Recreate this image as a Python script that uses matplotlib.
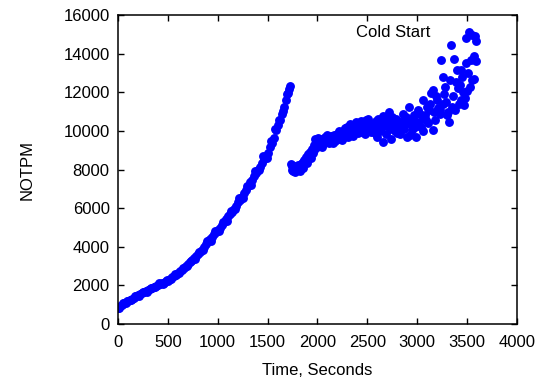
import matplotlib
matplotlib.use('Agg')
import matplotlib.pyplot as plt

plt.rcParams['font.family'] = ['Liberation Sans', 'DejaVu Sans']

# warm-up part (before restart)
t1 = [0, 20, 40, 60, 80, 100, 120, 140, 160, 180, 200, 220, 240, 260, 280,
      300, 320, 340, 360, 380, 400, 420, 440, 460, 480, 500, 520, 540, 560,
      580, 600, 620, 640, 660, 680, 700, 720, 740, 760, 780, 800, 820, 840,
      860, 880, 900, 920, 940, 960, 980, 1000, 1020, 1040, 1060, 1080, 1100,
      1120, 1140, 1160, 1180, 1200, 1220, 1240, 1260, 1280, 1300, 1320, 1340,
      1360, 1380, 1400, 1420, 1440, 1460, 1480, 1500, 1520, 1540, 1560, 1580,
      1600, 1620, 1640, 1660, 1680, 1700, 1710, 1720,
      10, 50, 90, 130, 170, 210, 250, 290, 330, 370, 410, 450, 490, 530, 570,
      610, 650, 690, 730, 770, 810, 850, 890, 930, 970, 1010, 1050, 1090,
      1130, 1170, 1210, 1250, 1290, 1330, 1370, 1410, 1450, 1490, 1530, 1570,
      1610, 1650, 1690]
v1 = [850, 920, 980, 1060, 1110, 1190, 1250, 1310, 1370, 1430, 1480, 1540,
      1580, 1640, 1700, 1740, 1810, 1860, 1930, 1970, 2010, 2060, 2100, 2140,
      2200, 2240, 2330, 2420, 2500, 2560, 2620, 2720, 2800, 2890, 3000, 3080,
      3200, 3290, 3400, 3510, 3620, 3720, 3850, 3980, 4120, 4280, 4400, 4520,
      4640, 4750, 4850, 4980, 5120, 5260, 5420, 5600, 5700, 5820, 5980, 6120,
      6300, 6420, 6580, 6760, 6950, 7150, 7380, 7460, 7650, 7800, 7950, 8150,
      8350, 8540, 8700, 8850, 9150, 9380, 9650, 10050, 10300, 10550, 10900,
      11250, 11600, 11950, 12150, 12350,
      820, 1060, 1200, 1230, 1450, 1460, 1660, 1680, 1880, 1900, 2100, 2080,
      2280, 2320, 2580, 2620, 2900, 2980, 3280, 3380, 3720, 3850, 4300, 4300,
      4800, 4820, 5300, 5350, 5850, 5950, 6500, 6550, 7150, 7200, 7900, 7950,
      8700, 8600, 9500, 10100, 10550, 11050, 11900]

# after restart
t2 = [1730, 1740, 1750, 1760, 1770, 1780, 1790, 1800, 1810, 1820, 1830, 1840,
      1850, 1860, 1870, 1880, 1890, 1900, 1910, 1920, 1930, 1940, 1950, 1960,
      1970, 1980, 1990, 2000, 2010, 2020, 2030, 2050, 2060, 2080, 2090, 2110,
      2120, 2140, 2150, 2170, 2180, 2200, 2210, 2230, 2240, 2260, 2270, 2290,
      2300, 2320, 2330, 2350, 2360, 2380, 2390, 2410, 2420, 2440, 2450, 2470,
      2490, 2500, 2520, 2540, 2555, 2570, 2590, 2600, 2620, 2640, 2655, 2660,
      2680, 2690, 2700, 2720, 2730, 2740, 2755, 2770, 2790, 2800, 2820, 2840,
      2855, 2870, 2880, 2900, 2920, 2925, 2940, 2960, 2980, 2990, 3005, 3020,
      3040, 3055, 3070, 3090, 3100, 3120, 3140, 3155, 3160, 3180, 3190, 3210,
      3225, 3240, 3255, 3260, 3290, 3300, 3320, 3325, 3340, 3350, 3370, 3390,
      3405, 3410, 3420, 3440, 3440, 3455, 3470, 3490, 3490, 3505, 3520, 3540,
      3555, 3555, 3575, 3590, 3595,
      1745, 1775, 1805, 1825, 1865, 1895, 1915, 1945, 1965, 1995, 2025, 2045,
      2070, 2100, 2130, 2160, 2190, 2220, 2250, 2280, 2310, 2340, 2370, 2400,
      2430, 2460, 2480, 2510, 2530, 2560, 2580, 2610, 2630, 2650, 2670, 2710,
      2750, 2780, 2810, 2830, 2860, 2890, 2910, 2950, 2970, 3000, 3030, 3060,
      3080, 3110, 3130, 3170, 3200, 3230, 3270, 3280, 3310, 3360, 3380, 3430,
      3460, 3480, 3510, 3530, 3570, 3580]
v2 = [8300, 7950, 8100, 7900, 8200, 7880, 8000, 7950, 8150, 8050, 7900, 8300,
      8350, 8100, 8500, 8400, 8650, 8550, 8800, 8700, 8900, 8600, 9050, 8850,
      9000, 9600, 9200, 9150, 9650, 9250, 9400, 9500, 9300, 9700, 9450, 9600,
      9350, 9750, 9550, 9800, 9500, 9850, 9600, 9900, 9650, 10000, 9700, 9950,
      10200, 9800, 10350, 10000, 9750, 10100, 10450, 9900, 10200, 10500, 10000,
      10300, 10550, 10100, 10400, 9950, 10050, 10250, 10500, 9700, 10150, 10400,
      10750, 9450, 10300, 9850, 10600, 11000, 10100, 9600, 10400, 10250, 10600,
      9900, 10200, 10450, 10900, 10100, 10500, 9700, 11250, 9800, 10350, 10650,
      10200, 9700, 11100, 10450, 10200, 11600, 10700, 10550, 11250, 11100,
      11950, 10050, 12100, 10550, 11800, 11200, 10900, 13650, 12800, 11400,
      11500, 10850, 10450, 12650, 14450, 11250, 13750, 12550, 13150, 12200,
      11400, 13150, 11600, 12800, 11350, 13500, 14800, 12050, 15150, 13700,
      14950, 12650, 12700, 14650, 13600,
      8200, 8050, 8250, 7950, 8450, 8350, 8600, 8900, 9250, 9500, 9600, 9150,
      9550, 9800, 9600, 9400, 9700, 10000, 9550, 10150, 9700, 10000, 10300,
      10150, 9950, 10400, 9850, 10600, 10150, 10350, 9900, 10600, 10000, 10200,
      10500, 10300, 10700, 10000, 10500, 9850, 10300, 10700, 10400, 10050,
      10850, 10300, 10900, 10000, 10800, 10400, 11400, 11000, 11600, 11100,
      11900, 12300, 11000, 11800, 11100, 12400, 12000, 11700, 13000, 12300,
      13900, 14900]

fig, ax = plt.subplots(figsize=(5.44, 3.78), dpi=100)
fig.subplots_adjust(left=0.217, right=0.950, top=0.960, bottom=0.143)

ax.plot(t1, v1, 'o', color='#0000ff', ms=6.4, mew=0, linestyle='none')
ax.plot(t2, v2, 'o', color='#0000ff', ms=6.4, mew=0, linestyle='none')

ax.set_xlim(0, 4000)
ax.set_ylim(0, 16000)
ax.set_xticks(range(0, 4001, 500))
ax.set_yticks(range(0, 16001, 2000))
ax.tick_params(direction='in', length=4, width=1, top=True, right=True,
               labelsize=12)
ax.tick_params(axis='x', pad=8)
ax.tick_params(axis='y', pad=6)
for s in ax.spines.values():
    s.set_linewidth(1.1)

ax.set_xlabel('Time, Seconds', fontsize=12)
ax.set_ylabel('NOTPM', fontsize=12)
ax.xaxis.set_label_coords(0.5, -0.125)
ax.yaxis.set_label_coords(-0.21, 0.5)

ax.text(3130, 15100, 'Cold Start', ha='right', va='center', fontsize=12)

fig.savefig('out.png', dpi=100)
